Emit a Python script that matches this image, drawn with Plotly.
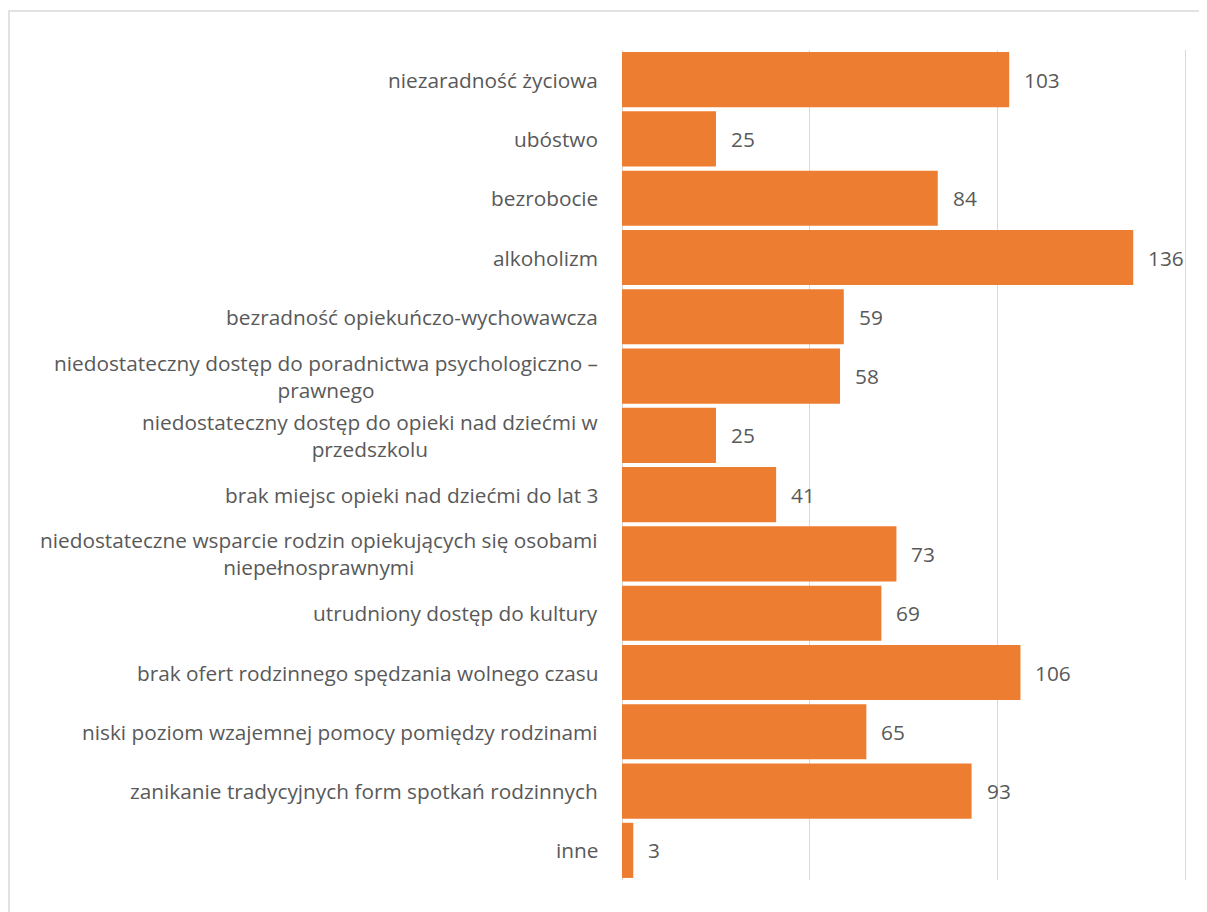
import plotly.graph_objects as go

categories = [
    "niezaradność życiowa",
    "ubóstwo",
    "bezrobocie",
    "alkoholizm",
    "bezradność opiekuńczo-wychowawcza",
    "niedostateczny dostęp do poradnictwa psychologiczno –<br>prawnego",
    "niedostateczny dostęp do opieki nad dziećmi w<br>przedszkolu",
    "brak miejsc opieki nad dziećmi do lat 3",
    "niedostateczne wsparcie rodzin opiekujących się osobami<br>niepełnosprawnymi",
    "utrudniony dostęp do kultury",
    "brak ofert rodzinnego spędzania wolnego czasu",
    "niski poziom wzajemnej pomocy pomiędzy rodzinami",
    "zanikanie tradycyjnych form spotkań rodzinnych",
    "inne",
]
values = [103, 25, 84, 136, 59, 58, 25, 41, 73, 69, 106, 65, 93, 3]
x_ticks = [0, 50, 100, 150]

FONT = "Open Sans"
GRAY = "#595959"
ORANGE = "#ED7D31"
GRID = "#d9d9d9"

ids = list(range(len(categories)))

fig = go.Figure(go.Bar(
    x=values, y=ids, orientation="h",
    marker=dict(color=ORANGE, line=dict(width=0)),
    hoverinfo="skip",
))

annotations = []
for i, (c, v) in enumerate(zip(categories, values)):
    annotations.append(dict(
        x=0, xref="paper", y=i, yref="y", text=c, showarrow=False,
        xanchor="right", yanchor="middle", align="center", xshift=-22,
        font=dict(family=FONT, size=20.8, color=GRAY),
    ))
    annotations.append(dict(
        x=v, xref="x", y=i, yref="y", text=str(v), showarrow=False,
        xanchor="left", yanchor="middle", xshift=13,
        font=dict(family=FONT, size=20.8, color=GRAY),
    ))

fig.update_layout(
    width=1199, height=904,
    margin=dict(l=614, r=20, t=42, b=32),
    paper_bgcolor="white", plot_bgcolor="white",
    bargap=0.07,
    showlegend=False,
    xaxis=dict(range=[0, 150.3], tickvals=x_ticks, showticklabels=False,
               showgrid=True, gridcolor=GRID, gridwidth=1,
               zeroline=True, zerolinecolor=GRID, zerolinewidth=1,
               showline=False, fixedrange=True),
    yaxis=dict(range=[len(categories) - 0.5, -0.5], showticklabels=False,
               showgrid=False, zeroline=False, showline=False, fixedrange=True),
    annotations=annotations,
    shapes=[dict(type="rect", xref="paper", yref="paper",
                 x0=(1 - 614) / 565, x1=1.2, y0=-0.2, y1=(830 + 39) / 830,
                 line=dict(color=GRID, width=1.5), fillcolor="rgba(0,0,0,0)",
                 layer="below")],
)

fig.write_html("out.html")
